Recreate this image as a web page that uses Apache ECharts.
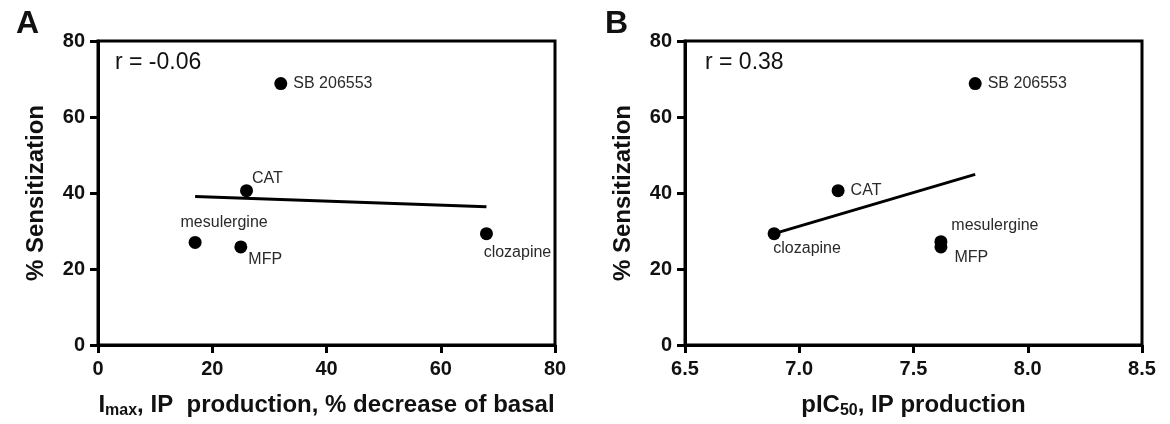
<!DOCTYPE html>
<html><head><meta charset="utf-8">
<script src="https://cdn.jsdelivr.net/npm/echarts@6/dist/echarts.min.js"></script>
<style>html,body{margin:0;padding:0;background:#fff}#c{width:1170px;height:424px}</style>
</head><body><div id="c"></div>
<script>
// Compound names
const compounds = ['SB 206553', 'CAT', 'mesulergine', 'MFP', 'clozapine'];
// Panel A: Imax (% decrease of basal) vs % sensitization
const imaxA = [32, 26, 17, 25, 68];
const sensA = [68.8, 40.6, 27.0, 25.8, 29.3];
// Panel B: pIC50 vs % sensitization
const pic50B = [7.77, 7.17, 7.62, 7.62, 6.89];
const sensB = [68.8, 40.6, 27.2, 25.8, 29.3];
// Regression line endpoints
const fitA = [[17, 39.1], [68, 36.4]];
const fitB = [[6.89, 29.3], [7.77, 44.9]];
// Correlation annotations
const rA = 'r = -0.06';
const rB = 'r = 0.38';
// Axis ticks
const yTicks = [0, 20, 40, 60, 80];
const xTicksA = [0, 20, 40, 60, 80];
const xTicksB = [6.5, 7.0, 7.5, 8.0, 8.5];

const FONT = '"Liberation Sans", Arial, sans-serif';
const labelStyle = {fontFamily: FONT, fontSize: 16, color: '#2a2a2a'};

const labA = {
  'SB 206553': {position: 'right', distance: 6, offset: [0, 0]},
  'CAT': {position: 'right', distance: 4, offset: [-5, -12]},
  'mesulergine': {position: 'top', distance: 5, offset: [29, 0]},
  'MFP': {position: 'right', distance: 4, offset: [-3, 13]},
  'clozapine': {position: 'bottom', distance: 5, offset: [31, -1]}
};
const labB = {
  'SB 206553': {position: 'right', distance: 6, offset: [0, 0]},
  'CAT': {position: 'right', distance: 6, offset: [0, 0]},
  'mesulergine': {position: 'top', distance: 5, offset: [54, 3]},
  'MFP': {position: 'right', distance: 4, offset: [3, 11]},
  'clozapine': {position: 'bottom', distance: 5, offset: [33, -5]}
};

function pts(xs, ys, labs) {
  return compounds.map((n, i) => ({
    value: [xs[i], ys[i]],
    label: Object.assign({show: true, formatter: n}, labelStyle, labs[n])
  }));
}

const axisLine = {show: true, lineStyle: {color: '#000', width: 3}};
const axisTick = {show: true, length: 8, lineStyle: {color: '#000', width: 3}};
const yLbl = {fontFamily: FONT, fontSize: 20, fontWeight: 'bold', color: '#111', margin: 13};
const xLbl = {fontFamily: FONT, fontSize: 20, fontWeight: 'bold', color: '#111', margin: 14};

function yAxis(gi) {
  return {
    type: 'value', gridIndex: gi, min: yTicks[0], max: yTicks[yTicks.length - 1], interval: 20,
    axisLine, axisTick, splitLine: {show: false},
    axisLabel: yLbl,
    name: '% Sensitization', nameLocation: 'middle', nameGap: 50,
    nameTextStyle: {fontFamily: FONT, fontSize: 24, fontWeight: 'bold', color: '#111'}
  };
}

const subRich = {
  a: {fontFamily: FONT, fontSize: 24, fontWeight: 'bold', color: '#111'},
  s: {fontFamily: FONT, fontSize: 16, fontWeight: 'bold', color: '#111', padding: [11, 0, 0, 0]}
};

const option = {
  animation: false,
  backgroundColor: '#fff',
  title: [
    {text: 'A', left: 11, top: 3, textStyle: {fontFamily: FONT, fontSize: 32, fontWeight: 'bold', color: '#111'}},
    {text: 'B', left: 600, top: 3, textStyle: {fontFamily: FONT, fontSize: 32, fontWeight: 'bold', color: '#111'}},
    {text: rA, left: 110, top: 46, textStyle: {fontFamily: FONT, fontSize: 23, fontWeight: 'normal', color: '#111'}},
    {text: rB, left: 700, top: 46, textStyle: {fontFamily: FONT, fontSize: 23, fontWeight: 'normal', color: '#111'}}
  ],
  grid: [
    {left: 98, top: 41, width: 457, height: 304, show: true, borderColor: '#000', borderWidth: 3},
    {left: 685, top: 41, width: 457, height: 304, show: true, borderColor: '#000', borderWidth: 3}
  ],
  xAxis: [
    {type: 'value', gridIndex: 0, min: xTicksA[0], max: xTicksA[xTicksA.length - 1], interval: 20,
     axisLine, axisTick, splitLine: {show: false}, axisLabel: xLbl,
     name: '{a|I}{s|max}{a|, IP  production, % decrease of basal}', nameLocation: 'middle', nameGap: 47,
     nameTextStyle: {rich: subRich}},
    {type: 'value', gridIndex: 1, min: xTicksB[0], max: xTicksB[xTicksB.length - 1], interval: 0.5,
     axisLine, axisTick, splitLine: {show: false},
     axisLabel: Object.assign({}, xLbl, {formatter: v => v.toFixed(1)}),
     name: '{a|pIC}{s|50}{a|, IP production}', nameLocation: 'middle', nameGap: 47,
     nameTextStyle: {rich: subRich}}
  ],
  yAxis: [yAxis(0), yAxis(1)],
  series: [
    {type: 'line', xAxisIndex: 0, yAxisIndex: 0, data: fitA, symbol: 'none',
     lineStyle: {color: '#000', width: 3}, z: 2},
    {type: 'scatter', xAxisIndex: 0, yAxisIndex: 0, data: pts(imaxA, sensA, labA),
     symbolSize: 13, itemStyle: {color: '#000', opacity: 1}, z: 3},
    {type: 'line', xAxisIndex: 1, yAxisIndex: 1, data: fitB, symbol: 'none',
     lineStyle: {color: '#000', width: 3}, z: 2},
    {type: 'scatter', xAxisIndex: 1, yAxisIndex: 1, data: pts(pic50B, sensB, labB),
     symbolSize: 13, itemStyle: {color: '#000', opacity: 1}, z: 3}
  ]
};
echarts.init(document.getElementById('c')).setOption(option);
</script></body></html>
